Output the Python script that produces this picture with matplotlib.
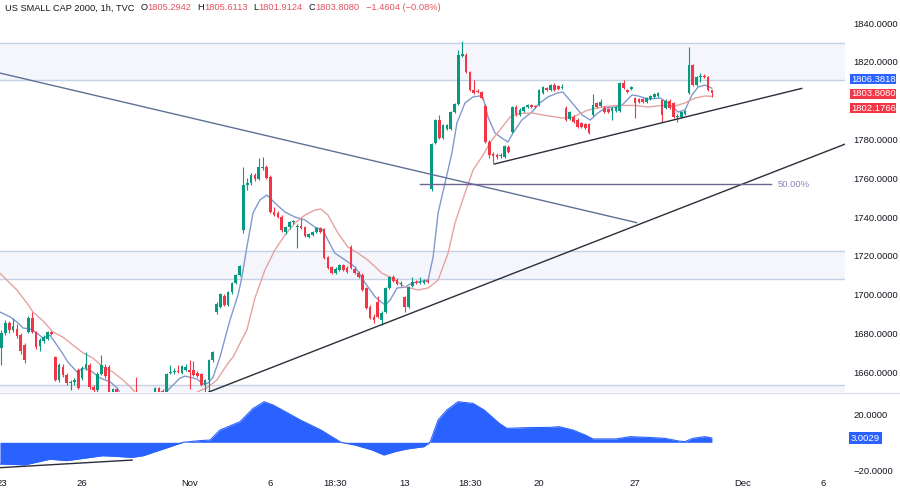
import matplotlib
matplotlib.use('Agg')
import matplotlib.pyplot as plt
import matplotlib.transforms as mtrans
from matplotlib.lines import Line2D
from matplotlib.patches import Rectangle

plt.rcParams['font.family'] = ['Liberation Sans', 'DejaVu Sans']

# 1h bars, bar 0 = Oct 23 first session hour
opens = [1672.5, 1680.2, 1685.4, 1681.8, 1682.3, 1679.0, 1674.0, 1680.7, 1687.9, 1680.7,
         1673.5, 1676.0, 1677.0, 1680.7, 1667.8, 1656.0, 1662.7, 1658.6, 1654.4, 1655.0,
         1661.0, 1657.0, 1662.0, 1663.7, 1652.4, 1650.8, 1659.1, 1662.7, 1662.7, 1649.0,
         1651.5, 1648.5, 1642.0, 1639.5, 1642.5, 1648.0, 1644.0, 1640.5, 1638.0, 1641.5,
         1646.0, 1651.7, 1650.5, 1646.0, 1659.5, 1660.3, 1660.5, 1659.6, 1661.2, 1661.2,
         1661.2, 1659.5, 1659.1, 1653.4, 1656.0, 1666.3, 1691.0, 1693.6, 1699.3, 1694.6,
         1701.3, 1706.0, 1710.1, 1733.3, 1756.5, 1757.5, 1761.6, 1759.6, 1765.3, 1765.8,
         1760.6, 1742.6, 1742.0, 1740.0, 1732.3, 1734.8, 1737.2, 1734.8, 1735.4, 1734.8,
         1729.7, 1730.7, 1732.3, 1734.3, 1733.8, 1719.4, 1714.2, 1711.1, 1712.7, 1715.3,
         1713.7, 1724.5, 1713.2, 1711.1, 1710.1, 1703.4, 1693.6, 1688.5, 1696.0, 1686.9,
         1691.0, 1703.4, 1709.1, 1707.5, 1705.5, 1698.8, 1693.6, 1704.5, 1706.5, 1706.0,
         1706.2, 1707.0, 1754.4, 1778.1, 1790.0, 1780.7, 1785.4, 1785.4, 1794.1, 1798.2,
         1823.0, 1823.5, 1814.7, 1805.5, 1805.0, 1804.4, 1797.2, 1778.7, 1772.5, 1772.0,
         1771.5, 1770.9, 1776.0, 1783.8, 1796.7, 1792.6, 1794.5, 1796.7, 1797.7, 1797.2,
         1797.7, 1803.9, 1806.5, 1805.5, 1808.0, 1807.5, 1806.5, 1796.2, 1790.5, 1791.5,
         1790.0, 1788.4, 1787.9, 1787.9, 1792.6, 1798.8, 1797.2, 1796.2, 1795.7, 1794.6,
         1794.6, 1794.6, 1809.1, 1805.5, 1806.0, 1801.3, 1801.0, 1800.8, 1799.3, 1800.8,
         1801.8, 1802.4, 1800.3, 1796.0, 1800.0, 1798.8, 1791.5, 1791.5, 1793.0, 1803.9,
         1818.4, 1808.0, 1812.2, 1812.7, 1812.2, 1805.2942]
highs = [1682.0, 1687.0, 1686.5, 1687.9, 1685.0, 1680.0, 1675.0, 1689.0, 1691.0, 1681.5,
         1677.5, 1679.0, 1681.5, 1681.3, 1668.5, 1664.5, 1664.0, 1659.5, 1656.0, 1657.0,
         1662.0, 1663.0, 1670.4, 1664.5, 1653.5, 1660.0, 1668.8, 1664.0, 1663.5, 1652.0,
         1652.0, 1649.0, 1646.0, 1644.0, 1647.0, 1657.5, 1646.5, 1644.0, 1643.0, 1647.5,
         1652.5, 1652.5, 1651.5, 1659.8, 1663.7, 1662.0, 1663.7, 1663.5, 1664.0, 1666.3,
         1666.0, 1660.5, 1659.8, 1656.5, 1667.0, 1671.0, 1696.0, 1701.0, 1700.5, 1702.0,
         1706.5, 1710.8, 1715.5, 1765.8, 1760.0, 1762.5, 1762.5, 1770.4, 1770.9, 1767.0,
         1761.5, 1745.0, 1743.0, 1741.0, 1735.5, 1738.0, 1738.5, 1736.5, 1739.5, 1735.5,
         1731.8, 1733.0, 1735.0, 1735.0, 1734.5, 1720.0, 1715.0, 1714.0, 1716.0, 1716.0,
         1714.5, 1725.5, 1714.0, 1712.0, 1711.0, 1704.0, 1694.5, 1690.0, 1699.5, 1691.5,
         1704.0, 1709.8, 1710.0, 1708.5, 1707.0, 1699.5, 1704.5, 1709.0, 1707.5, 1709.0,
         1708.0, 1708.0, 1778.0, 1790.5, 1792.6, 1788.0, 1788.0, 1794.5, 1798.8, 1826.0,
         1830.5, 1824.5, 1815.5, 1810.6, 1806.0, 1805.0, 1798.0, 1779.5, 1773.5, 1773.0,
         1773.0, 1777.2, 1777.0, 1797.2, 1797.5, 1796.0, 1797.2, 1798.3, 1798.2, 1797.8,
         1806.0, 1807.5, 1807.2, 1808.6, 1809.3, 1808.0, 1808.5, 1797.0, 1794.6, 1792.5,
         1790.8, 1789.0, 1788.5, 1788.5, 1803.4, 1799.5, 1801.0, 1797.0, 1796.3, 1796.7,
         1797.2, 1809.6, 1810.6, 1806.2, 1807.5, 1801.8, 1801.6, 1801.3, 1801.8, 1802.9,
         1803.9, 1804.4, 1801.0, 1800.8, 1801.0, 1799.5, 1793.0, 1794.6, 1795.2, 1827.6,
         1819.0, 1812.7, 1814.2, 1813.7, 1812.8, 1805.6113]
lows = [1663.7, 1679.0, 1680.0, 1680.5, 1677.5, 1669.5, 1665.0, 1680.0, 1680.0, 1672.0,
        1671.0, 1675.0, 1676.5, 1679.0, 1655.5, 1655.0, 1657.5, 1653.5, 1651.0, 1653.5,
        1651.5, 1656.0, 1661.0, 1651.5, 1650.0, 1650.0, 1658.5, 1657.0, 1646.0, 1648.0,
        1648.0, 1640.0, 1637.0, 1636.0, 1639.0, 1641.0, 1638.0, 1635.5, 1636.0, 1640.0,
        1645.0, 1647.0, 1645.0, 1645.5, 1659.1, 1659.0, 1659.5, 1659.0, 1660.5, 1651.3,
        1658.0, 1657.5, 1653.0, 1650.0, 1649.8, 1665.5, 1690.0, 1693.0, 1694.0, 1694.0,
        1700.5, 1705.5, 1709.5, 1732.0, 1754.0, 1756.5, 1758.5, 1759.0, 1764.0, 1759.5,
        1742.0, 1740.5, 1739.5, 1732.5, 1731.5, 1734.0, 1736.5, 1724.0, 1733.8, 1729.5,
        1729.0, 1730.0, 1731.8, 1732.0, 1718.5, 1713.0, 1710.5, 1710.5, 1712.0, 1712.0,
        1711.0, 1713.0, 1710.5, 1708.5, 1701.8, 1692.5, 1687.3, 1685.5, 1688.0, 1684.5,
        1690.5, 1703.0, 1706.5, 1705.0, 1704.5, 1691.2, 1693.0, 1704.0, 1705.5, 1705.5,
        1705.5, 1706.0, 1753.5, 1777.5, 1780.0, 1780.0, 1784.8, 1785.0, 1793.5, 1797.5,
        1822.5, 1814.0, 1805.0, 1803.5, 1803.8, 1800.8, 1778.0, 1770.4, 1767.8, 1770.0,
        1770.5, 1770.5, 1773.0, 1783.3, 1792.0, 1792.0, 1794.0, 1796.2, 1796.0, 1796.0,
        1797.0, 1803.4, 1805.0, 1805.0, 1805.0, 1805.5, 1806.0, 1789.5, 1790.0, 1788.5,
        1786.0, 1786.0, 1785.5, 1782.8, 1792.0, 1796.2, 1796.8, 1793.6, 1793.6, 1790.0,
        1794.0, 1794.0, 1806.0, 1804.0, 1805.5, 1791.0, 1798.8, 1798.8, 1798.8, 1800.3,
        1801.3, 1802.0, 1789.0, 1795.5, 1795.7, 1791.0, 1789.0, 1791.0, 1792.5, 1803.4,
        1807.5, 1807.5, 1809.6, 1811.7, 1805.0, 1801.9124]
closes = [1680.2, 1685.4, 1681.8, 1684.0, 1678.7, 1670.9, 1666.3, 1687.9, 1680.7, 1673.0,
          1676.6, 1678.0, 1680.7, 1679.5, 1656.0, 1663.7, 1658.6, 1654.4, 1655.0, 1656.0,
          1652.0, 1662.0, 1664.0, 1652.4, 1650.8, 1659.1, 1663.7, 1658.0, 1648.0, 1651.5,
          1649.0, 1642.0, 1639.5, 1642.5, 1644.5, 1644.0, 1640.5, 1638.0, 1641.5, 1646.0,
          1651.7, 1648.0, 1647.0, 1659.1, 1660.3, 1660.5, 1660.3, 1663.0, 1662.8, 1660.1,
          1658.6, 1658.0, 1653.4, 1656.0, 1666.3, 1670.4, 1695.1, 1700.3, 1694.6, 1701.3,
          1706.0, 1710.1, 1714.7, 1756.5, 1757.7, 1761.6, 1759.6, 1765.8, 1765.8, 1760.1,
          1742.6, 1741.0, 1740.0, 1733.3, 1734.8, 1737.4, 1737.8, 1735.6, 1734.3, 1730.2,
          1731.2, 1732.3, 1734.3, 1732.5, 1718.9, 1713.7, 1711.1, 1713.2, 1715.3, 1712.7,
          1711.6, 1713.7, 1711.1, 1709.1, 1702.4, 1693.1, 1687.9, 1686.9, 1688.5, 1690.5,
          1703.4, 1709.1, 1707.0, 1705.5, 1705.8, 1693.6, 1704.1, 1706.7, 1706.0, 1706.7,
          1707.2, 1706.5, 1777.6, 1790.0, 1780.7, 1787.4, 1787.4, 1794.1, 1798.2, 1823.5,
          1823.8, 1814.7, 1805.5, 1804.0, 1804.4, 1801.3, 1778.7, 1772.0, 1771.5, 1771.0,
          1771.8, 1776.6, 1773.5, 1796.7, 1793.0, 1795.2, 1796.7, 1797.7, 1796.7, 1796.5,
          1805.5, 1807.0, 1805.5, 1808.0, 1805.5, 1806.0, 1807.0, 1790.0, 1794.1, 1789.0,
          1786.4, 1786.4, 1786.0, 1783.3, 1797.7, 1796.7, 1799.3, 1794.1, 1794.1, 1796.2,
          1796.7, 1809.1, 1806.5, 1804.5, 1807.0, 1798.8, 1799.3, 1799.3, 1801.3, 1802.4,
          1803.4, 1803.9, 1792.6, 1800.0, 1796.2, 1791.5, 1792.0, 1794.1, 1794.6, 1818.4,
          1808.0, 1812.2, 1812.7, 1812.2, 1805.5, 1803.8080]

# moving averages read at sample bars
ma_fast_x = [-0.4, 2.2, 4.3, 5.6, 7.4, 9.2, 10.8, 12.6, 13.9, 15.8, 17.3, 19.7, 21.2, 23.0, 25.7,
             28.3, 30.1, 32.2, 36.0, 40.0, 42.0, 43.9, 46.5, 47.8, 50.9, 52.7, 53.8, 55.1, 56.9,
             59.5, 61.6, 62.6, 63.9, 65.5, 67.3, 69.1, 69.9, 71.2, 73.8, 76.4, 79.0, 81.6, 83.7,
             85.0, 86.8, 89.5, 92.1, 94.7, 97.3, 99.9, 101.2, 103.0, 105.1, 106.9, 111.1, 112.4,
             113.7, 115.5, 117.3, 118.6, 120.7, 122.8, 124.6, 125.4, 126.7, 128.5, 130.3, 131.9,
             133.2, 135.5, 138.1, 140.2, 142.3, 144.7, 146.2, 148.6, 151.2, 153.3, 155.3, 157.2,
             159.8, 161.6, 164.2, 165.8, 168.4, 171.5, 173.6, 176.2, 178.0, 179.8, 181.4, 183.2,
             185.0]
ma_fast = [1691.0, 1688.6, 1685.4, 1682.8, 1682.3, 1680.2, 1677.6, 1679.1, 1675.5, 1670.0, 1665.2,
           1660.1, 1662.1, 1661.1, 1657.0, 1655.0, 1651.9, 1645.0, 1641.0, 1644.0, 1648.0, 1651.9,
           1657.0, 1658.0, 1656.5, 1653.9, 1654.4, 1657.5, 1667.8, 1686.9, 1699.8, 1709.0, 1724.5,
           1742.1, 1748.8, 1751.3, 1749.8, 1747.2, 1742.6, 1740.0, 1738.5, 1734.8, 1733.3, 1728.1,
           1721.4, 1717.8, 1714.2, 1706.0, 1698.8, 1694.6, 1697.2, 1703.4, 1703.9, 1706.0, 1707.5,
           1719.4, 1742.1, 1757.5, 1773.0, 1788.5, 1798.8, 1801.9, 1802.4, 1801.6, 1791.5, 1783.3,
           1780.7, 1778.7, 1783.3, 1790.0, 1794.1, 1798.8, 1801.9, 1803.9, 1804.4, 1798.8, 1792.6,
           1790.0, 1793.6, 1796.2, 1796.7, 1797.7, 1802.9, 1802.4, 1800.8, 1801.3, 1798.8, 1794.1,
           1795.2, 1802.9, 1807.0, 1808.0, 1806.3818]
ma_slow_x = [-0.4, 1.4, 4.0, 6.6, 8.2, 10.8, 13.4, 16.0, 18.6, 21.2, 23.8, 26.4, 29.0, 31.6, 33.5,
             36.0, 41.3, 46.5, 49.9, 51.7, 53.5, 56.1, 59.0, 60.3, 63.9, 66.0, 68.6, 71.2, 73.8,
             76.4, 79.0, 81.6, 83.2, 85.0, 87.6, 90.2, 92.8, 95.4, 99.1, 101.7, 105.1, 108.5,
             111.1, 113.7, 116.3, 118.1, 120.7, 122.8, 125.1, 127.7, 129.8, 132.4, 135.0, 138.4,
             142.1, 146.2, 148.8, 152.5, 155.9, 159.8, 165.0, 168.4, 172.0, 175.4, 178.0, 180.6,
             183.2, 185.0]
ma_slow = [1711.0, 1707.5, 1702.4, 1695.7, 1691.0, 1686.5, 1680.7, 1678.1, 1674.0, 1670.0, 1667.3,
           1662.7, 1660.1, 1656.0, 1652.5, 1647.0, 1644.0, 1645.0, 1648.5, 1650.5, 1652.0, 1656.0,
           1664.7, 1667.8, 1681.8, 1698.2, 1712.7, 1723.0, 1730.7, 1736.9, 1741.0, 1743.6, 1744.1,
           1741.0, 1731.8, 1724.5, 1721.4, 1717.8, 1711.0, 1708.5, 1703.9, 1702.4, 1703.4, 1707.5,
           1721.4, 1736.9, 1752.4, 1764.2, 1771.0, 1779.7, 1784.8, 1791.5, 1793.5, 1793.5, 1792.2,
           1791.0, 1791.5, 1795.0, 1796.5, 1797.5, 1797.5, 1796.7, 1797.5, 1797.2, 1798.8, 1801.3,
           1802.4, 1802.1766]

# lower oscillator panel
osc_x = [-0.4, 6.1, 12.6, 17.0, 26.4, 30.0, 34.0, 36.9, 41.3, 47.3, 51.7, 54.3, 56.9, 62.1, 65.5,
         68.4, 70.7, 74.4, 77.7, 83.2, 86.0, 88.4, 92.0, 96.5, 99.6, 102.5, 105.6, 110.0, 111.6,
         113.7, 116.0, 118.9, 122.8, 125.7, 129.6, 131.6, 136.8, 142.8, 145.2, 148.8, 152.0,
         154.0, 160.0, 163.7, 168.4, 172.8, 176.4, 178.0, 180.0, 183.2, 185.0]
osc = [-15.4, -16.0, -12.0, -13.0, -9.5, -10.0, -10.7, -9.5, -5.5, 0.0, 1.2, 1.6, 8.7, 14.6, 24.0,
       28.8, 26.5, 21.0, 16.0, 8.7, 4.0, 0.0, -1.9, -5.4, -9.0, -6.6, -4.7, -3.1, 0.0, 15.8, 23.0,
       28.8, 27.6, 22.9, 13.5, 9.9, 10.4, 10.6, 11.1, 8.7, 5.2, 2.4, 2.4, 4.0, 3.5, 2.8, 0.9, 0.5,
       2.8, 4.0, 3.0029]

zones = [(1810.6, 1829.7), (1708.0, 1722.5), (1640.0, 1653.3)]
fib_x = [109.0, 200.4]
fib_price = 1757.0
desc_x, desc_y = [-0.4, 165.4], [1814.2, 1737.1]
long_x, long_y = [54.0, 219.7], [1649.8, 1777.6]
short_x, short_y = [128.3, 208.4], [1767.3, 1806.3]
osc_line_x, osc_line_y = [-0.4, 34.0], [-18.0, -12.6]

tick_pos = [0, 21, 49, 70, 87, 105, 122, 140, 165, 193, 214]
tick_lab = ['23', '26', 'Nov', '6', '18:30', '13', '18:30', '20', '27', 'Dec', '6']
# 1800 is hidden behind the last-value labels on the price scale
price_ticks = [1660, 1680, 1700, 1720, 1740, 1760, 1780, 1820, 1840]

UP, DOWN = '#089981', '#f23645'
TXT = '#131722'
W, H = 900, 491
FS = 6.8

fig = plt.figure(figsize=(9, 4.91), dpi=100)
ax = fig.add_axes([0, 1 - 392 / H, 845 / W, 392 / H])
ax2 = fig.add_axes([0, 1 - 475 / H, 845 / W, 82 / H])
for a in (ax, ax2):
    for s in a.spines.values():
        s.set_visible(False)
    a.set_xlim(-0.39, 219.66)

# zones
for lo, hi in zones:
    ax.axhspan(lo, hi, color='#f4f6fb', lw=0, zorder=0)
    ax.axhline(lo, color='#c6d1e6', lw=1.0, zorder=0.5)
    ax.axhline(hi, color='#c6d1e6', lw=1.0, zorder=0.5)

# candles
for i in range(len(closes)):
    o, h, l, c = opens[i], highs[i], lows[i], closes[i]
    col = UP if c >= o else DOWN
    ax.vlines(i, l, h, color=col, lw=0.8, zorder=3)
    ax.bar(i, max(abs(c - o), 0.55), bottom=min(o, c), width=0.7, color=col, lw=0, zorder=3)

ax.plot(ma_fast_x, ma_fast, color='#8199cf', lw=1.0, zorder=2)
ax.plot(ma_slow_x, ma_slow, color='#e6a2a2', lw=1.0, zorder=2)

ax.plot(desc_x, desc_y, color='#5e7194', lw=1.0, zorder=4)
ax.plot(long_x, long_y, color='#2a2e39', lw=1.0, zorder=4)
ax.plot(short_x, short_y, color='#2a2e39', lw=1.0, zorder=4)
ax.plot(fib_x, [fib_price, fib_price], color='#6f6390', lw=1.0, zorder=4)
ax.text(fib_x[1] + 1.6, fib_price, '50.00%', color='#8f82b8', fontsize=FS, va='center', ha='left')

ax.set_ylim(1649.8, 1851.86)
ax.set_xticks([])
ax.yaxis.tick_right()
ax.set_yticks(price_ticks)
ax.set_yticklabels([f'{p:.4f}' for p in price_ticks])
ax.tick_params(axis='y', length=0, pad=6, labelsize=FS, labelcolor=TXT)

# last value labels (stacked like the price scale does)
tr = mtrans.blended_transform_factory(ax.transAxes, ax.transData)
labels = [(ma_fast[-1], ma_fast[-1] + 4.6, '#2962ff'),
          (closes[-1], closes[-1] - 0.2, DOWN),
          (ma_slow[-1], ma_slow[-1] - 6.0, DOWN)]
for val, ypos, col in labels:
    ax.text(1.0071, ypos, f'{val:.4f}', transform=tr, color='white', fontsize=FS,
            va='center', ha='left', clip_on=False, zorder=6,
            bbox=dict(boxstyle='square,pad=0.06', fc=col, ec='none'))

# oscillator
ax2.fill_between(osc_x, osc, 0, color='#2962ff', lw=0)
ax2.plot(osc_x, osc, color='#2962ff', lw=0.8)
ax2.plot(osc_line_x, osc_line_y, color='#2a2e39', lw=1.0)
ax2.set_ylim(-23.2, 35.0)
ax2.yaxis.tick_right()
ax2.set_yticks([20, -20])
ax2.set_yticklabels(['20.0000', '\u221220.0000'])
ax2.tick_params(axis='y', length=0, pad=6, labelsize=FS, labelcolor=TXT)
ax2.set_xticks(tick_pos)
ax2.set_xticklabels(tick_lab)
ax2.tick_params(axis='x', length=0, pad=3, labelsize=FS, labelcolor=TXT)
tr2 = mtrans.blended_transform_factory(ax2.transAxes, ax2.transData)
ax2.text(1.0071, osc[-1], f'{osc[-1]:.4f}', transform=tr2, color='white', fontsize=FS,
         va='center', ha='left', clip_on=False, zorder=6,
         bbox=dict(boxstyle='square,pad=0.2', fc='#2962ff', ec='none'))

# separator and bottom mask under the oscillator scale
fig.add_artist(Line2D([0, 1], [1 - 392.5 / H] * 2, color='#e0e3eb', lw=1.0))
fig.add_artist(Rectangle((845 / W, 0), 55 / W, 16 / H, color='white', zorder=10))

# header legend, laid out piece by piece
red = '#e5525f'
pieces = [('US SMALL CAP 2000, 1h, TVC', TXT, 6), ('O', TXT, 0), ('1805.2942', red, 6),
          ('H', TXT, 0), ('1805.6113', red, 6), ('L', TXT, 0), ('1801.9124', red, 6),
          ('C', TXT, 0), ('1803.8080', red, 6), ('\u22121.4604 (\u22120.08%)', red, 0)]
fig.canvas.draw()
rend = fig.canvas.get_renderer()
xpos = 5
for s, col, gap in pieces:
    t = fig.text(xpos / W, 1 - 8 / H, s, color=col, fontsize=6.65, va='center', ha='left')
    xpos += t.get_window_extent(renderer=rend).width + gap

fig.savefig('out.png', dpi=100)
